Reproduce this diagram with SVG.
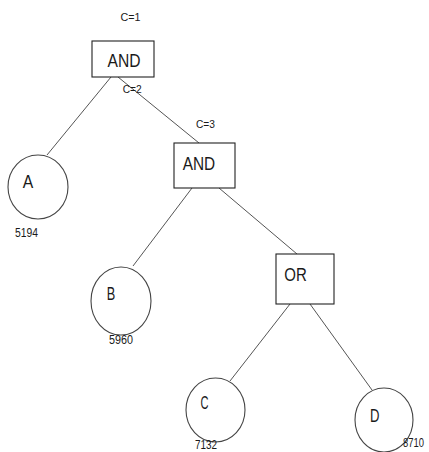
<svg xmlns="http://www.w3.org/2000/svg" width="429" height="452" viewBox="0 0 429 452">
  <style>
    .box { fill: #ffffff; stroke: #222222; stroke-width: 1.1; }
    .leaf { fill: #ffffff; stroke: #444444; stroke-width: 1.1; }
    .edge { stroke: #555555; stroke-width: 1; fill: none; }
    .big { font-family: "Liberation Sans", Arial, sans-serif; font-size: 19px; fill: #1a1a1a; }
    .small { font-family: "Liberation Sans", Arial, sans-serif; font-size: 10.5px; fill: #1a1a1a; }
    .num { font-family: "Liberation Sans", Arial, sans-serif; font-size: 12px; fill: #1a1a1a; }
  </style>
  <rect width="429" height="452" fill="#ffffff"/>

  <!-- connectors -->
  <g id="edges">
    <line class="edge" x1="111" y1="77" x2="47" y2="155"/>
    <line class="edge" x1="118" y1="77" x2="199" y2="143"/>
    <line class="edge" x1="192" y1="188" x2="133" y2="266"/>
    <line class="edge" x1="219" y1="188" x2="297" y2="254"/>
    <line class="edge" x1="290" y1="304" x2="230" y2="381"/>
    <line class="edge" x1="310" y1="304" x2="372" y2="390"/>
  </g>

  <!-- cost labels -->
  <g id="costs">
    <text class="small" x="120.5" y="20.5" textLength="20" lengthAdjust="spacingAndGlyphs">C=1</text>
    <text class="small" x="122.7" y="92.5" textLength="19" lengthAdjust="spacingAndGlyphs">C=2</text>
    <text class="small" x="196" y="128" textLength="19" lengthAdjust="spacingAndGlyphs">C=3</text>
  </g>

  <g id="and1">
    <rect class="box" x="92" y="41" width="62" height="36"/>
    <text class="big" x="107.5" y="67" textLength="33" lengthAdjust="spacingAndGlyphs">AND</text>
  </g>

  <g id="leafA">
    <ellipse class="leaf" cx="38" cy="187" rx="30" ry="32"/>
    <text class="big" x="22.7" y="188" textLength="10.5" lengthAdjust="spacingAndGlyphs">A</text>
    <text class="num" x="15" y="237" textLength="23" lengthAdjust="spacingAndGlyphs">5194</text>
  </g>

  <g id="and2">
    <rect class="box" x="174" y="143" width="61" height="45"/>
    <text class="big" x="182.7" y="170" textLength="32.5" lengthAdjust="spacingAndGlyphs">AND</text>
  </g>

  <g id="leafB">
    <ellipse class="leaf" cx="121" cy="301" rx="30" ry="34"/>
    <text class="big" x="106.7" y="300" textLength="8.5" lengthAdjust="spacingAndGlyphs">B</text>
    <text class="num" x="109" y="344" textLength="24" lengthAdjust="spacingAndGlyphs">5960</text>
  </g>

  <g id="or1">
    <rect class="box" x="276" y="254" width="58" height="50"/>
    <text class="big" x="284.3" y="281" textLength="22.5" lengthAdjust="spacingAndGlyphs">OR</text>
  </g>

  <g id="leafC">
    <ellipse class="leaf" cx="215.5" cy="410" rx="29.5" ry="32"/>
    <text class="big" x="200.5" y="409" textLength="8" lengthAdjust="spacingAndGlyphs">C</text>
    <text class="num" x="195" y="449" textLength="22" lengthAdjust="spacingAndGlyphs">7132</text>
  </g>

  <g id="leafD">
    <ellipse class="leaf" cx="384" cy="420" rx="29" ry="32"/>
    <text class="big" x="370" y="421.7" textLength="9.5" lengthAdjust="spacingAndGlyphs">D</text>
    <text class="num" x="403" y="447" textLength="21" lengthAdjust="spacingAndGlyphs">8710</text>
  </g>
</svg>
